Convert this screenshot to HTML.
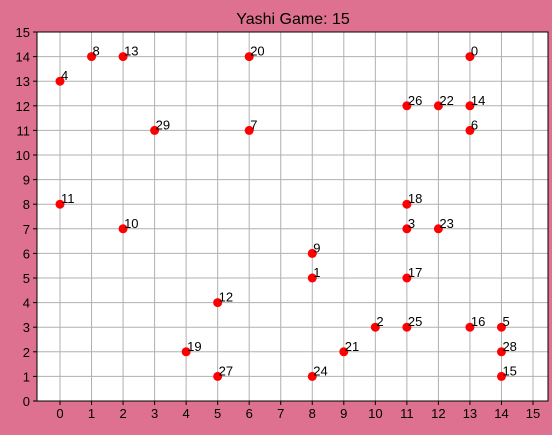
<!DOCTYPE html>
<html><head><meta charset="utf-8"><style>
body{margin:0;background:#de7090;}
svg{display:block;font-family:"Liberation Sans","DejaVu Sans",sans-serif;}
</style></head><body>
<svg id="chart" width="552" height="435">
<rect width="552" height="435" fill="#de7090"/>
<text x="293" y="24" text-anchor="middle" font-size="16" fill="#000">Yashi Game: 15</text>
<g id="grid"></g><g id="pts"></g>
</svg>
<script>
const labels=["0","1","2","3","4","5","6","7","8","9","10","11","12","13","14","15","16","17","18","19","20","21","22","23","24","25","26","27","28","29"];
const xs=[13,8,10,11,0,14,13,6,1,8,2,0,5,2,13,14,13,11,11,4,6,9,12,12,8,11,11,5,14,3];
const ys=[14,5,3,7,13,3,11,11,14,6,7,8,4,14,12,1,3,5,8,2,14,2,12,7,1,3,12,1,2,11];
const xticks=[0,1,2,3,4,5,6,7,8,9,10,11,12,13,14,15];
const yticks=[0,1,2,3,4,5,6,7,8,9,10,11,12,13,14,15];
const L=37,R=548,T=32,B=401;
const sx=v=>60+(v)*(533-60)/15;
const sy=v=>B-(v)*(B-T)/15;
const NS="http://www.w3.org/2000/svg";
const g=document.getElementById('grid'),p=document.getElementById('pts');
function mk(t,a,par){const e=document.createElementNS(NS,t);for(const k in a)e.setAttribute(k,a[k]);par.appendChild(e);return e;}
const bg=mk('rect',{x:L,y:T,width:R-L,height:B-T,fill:'#fff'},g);


xticks.forEach(v=>{const x=sx(v);
 const l=mk('line',{x1:x,x2:x,y1:T,y2:B,stroke:'#b0b0b0','stroke-width':1},g);
 
 
 mk('line',{x1:x,x2:x,y1:B,y2:B+4,stroke:'#000'},g);
 const t=mk('text',{x:x,y:B+17,'text-anchor':'middle','font-size':13},g);t.textContent=v;
 
 });
yticks.forEach(v=>{const y=sy(v);
 const l=mk('line',{x1:L,x2:R,y1:y,y2:y,stroke:'#b0b0b0','stroke-width':1},g);
 
 
 mk('line',{x1:L-4,x2:L,y1:y,y2:y,stroke:'#000'},g);
 const t=mk('text',{x:L-7,y:y+5,'text-anchor':'end','font-size':13},g);t.textContent=v;
 
 });
const fr=mk('rect',{x:L,y:T,width:R-L,height:B-T,fill:'none',stroke:'#000','stroke-width':1},g);


xs.forEach((v,i)=>{const x=sx(v),y=sy(ys[i]);
 const c=mk('circle',{cx:x,cy:y,r:4.5,fill:'#ff0000'},p);
 
 
 const t=mk('text',{x:x+1,y:y-1,'font-size':13},p);t.textContent=labels[i];
 
 });
</script>
</body></html>
